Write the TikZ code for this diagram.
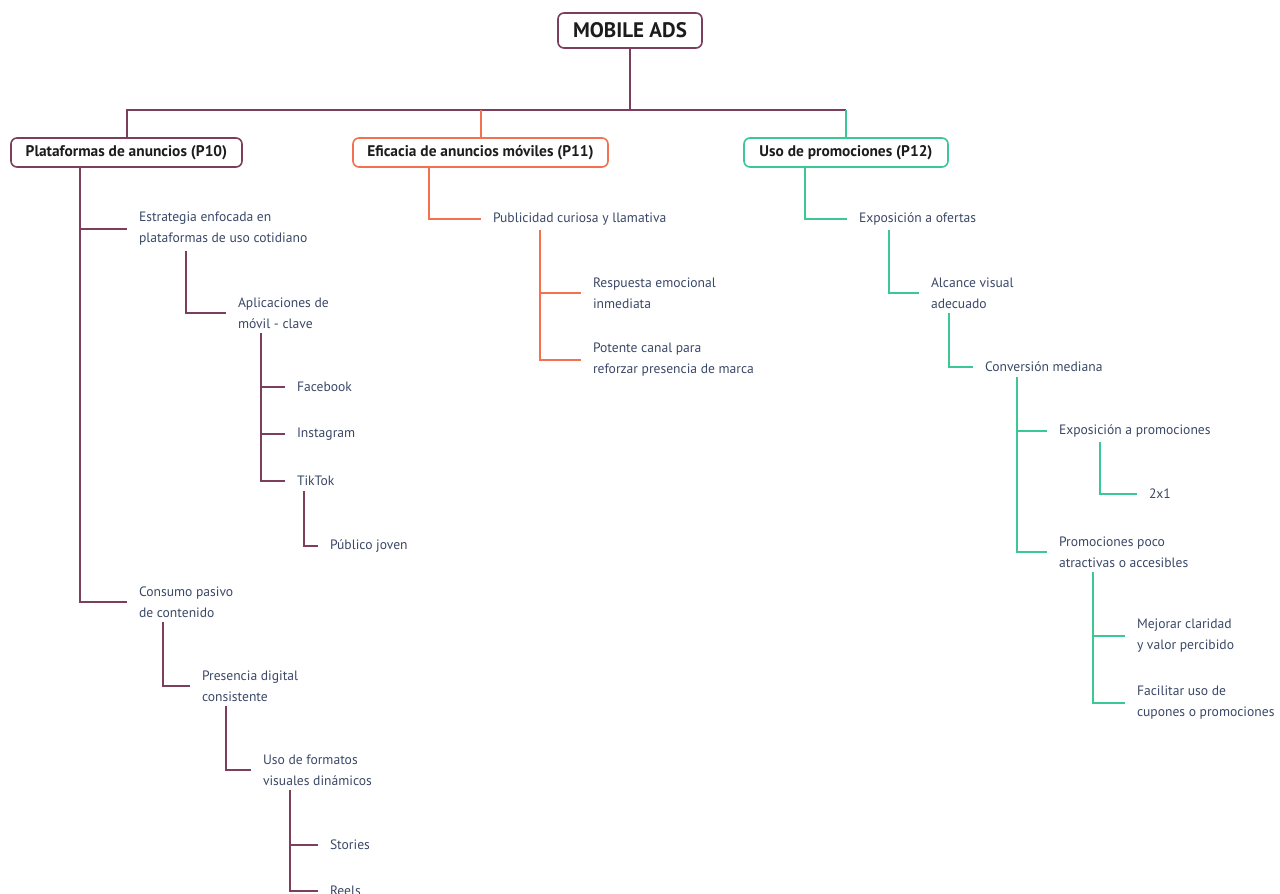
\documentclass[tikz,border=0pt]{standalone}
\usepackage{fontspec}
\setmainfont{PT Sans}
\usetikzlibrary{calc}
\definecolor{plum}{HTML}{7B3F5C}
\definecolor{coral}{HTML}{F5704E}
\definecolor{mint}{HTML}{3CC894}
\definecolor{ink}{HTML}{3A4766}
\definecolor{head}{HTML}{1C1C1C}

\begin{document}
\begin{tikzpicture}[x=1pt,y=-1pt,
  leaf/.style={anchor=west, align=left, inner sep=0pt, outer xsep=12pt, outer ysep=5pt,
    text=ink, font=\fontsize{13.6}{21}\selectfont},
  cat/.style={draw=#1, line width=1.6pt, rounded corners=6pt, fill=white, inner sep=0pt,
    outer sep=0pt, minimum height=29pt, text=head, font=\bfseries\fontsize{15.4}{18}\selectfont},
  link/.style={draw=#1, line width=2pt}
]
\useasboundingbox (0,0) rectangle (1280,894);

% root and the three topics
\node[cat=plum, minimum width=144pt, minimum height=35pt, font=\bfseries\fontsize{21}{24}\selectfont]
  (root) at (630,30.5) {MOBILE ADS};
\node[cat=plum, minimum width=231pt] (p10) at (126.5,152.5) {Plataformas de anuncios (P10)};
\node[cat=coral, minimum width=255pt] (p11) at (480.5,152.5) {Eficacia de anuncios móviles (P11)};
\node[cat=mint, minimum width=204pt] (p12) at (846,152.5) {Uso de promociones (P12)};

\coordinate (hub) at (630,110);
\draw[link=plum] (root.south) -- (hub);
\draw[link=plum] (hub) -| (p10.north);
\draw[link=plum] (hub) -- (hub -| p12.north);
\draw[link=coral] (hub -| p11.north) -- (p11.north);
\draw[link=mint] (hub -| p12.north) -- (p12.north);

% ---- P10 branch
\node[leaf] (estr) at (127,229) {Estrategia enfocada en\\plataformas de uso cotidiano};
\node[leaf] (apps) at (226,313) {Aplicaciones de\\móvil - clave};
\node[leaf] (fb) at (285,387) {Facebook};
\node[leaf] (ig) at (285,434) {Instagram};
\node[leaf] (tt) at (285,481) {TikTok};
\node[leaf] (joven) at (318,546) {Público joven};
\node[leaf] (pasivo) at (127,602) {Consumo pasivo\\de contenido};
\node[leaf] (presencia) at (190,686) {Presencia digital\\consistente};
\node[leaf] (formatos) at (251,770) {Uso de formatos\\visuales dinámicos};
\node[leaf] (stories) at (318,845) {Stories};
\node[leaf] (reels) at (318,891) {Reels};

\draw[link=plum] ([xshift=69pt]p10.south west) |- (estr.west);
\draw[link=plum] ([xshift=69pt]p10.south west) |- (pasivo.west);
\draw[link=plum] ([xshift=59pt]estr.south west) |- (apps.west);
\draw[link=plum] ([xshift=35pt]apps.south west) |- (fb.west);
\draw[link=plum] ([xshift=35pt]apps.south west) |- (ig.west);
\draw[link=plum] ([xshift=35pt]apps.south west) |- (tt.west);
\draw[link=plum] ([xshift=19pt]tt.south west) |- (joven.west);
\draw[link=plum] ([xshift=36pt]pasivo.south west) |- (presencia.west);
\draw[link=plum] ([xshift=36pt]presencia.south west) |- (formatos.west);
\draw[link=plum] ([xshift=39pt]formatos.south west) |- (stories.west);
\draw[link=plum] ([xshift=39pt]formatos.south west) |- (reels.west);

% ---- P11 branch
\node[leaf] (curiosa) at (481,219) {Publicidad curiosa y llamativa};
\node[leaf] (emocion) at (581,293) {Respuesta emocional\\inmediata};
\node[leaf] (canal) at (581,360) {Potente canal para\\reforzar presencia de marca};

\draw[link=coral] ([xshift=76pt]p11.south west) |- (curiosa.west);
\draw[link=coral] ([xshift=59pt]curiosa.south west) |- (emocion.west);
\draw[link=coral] ([xshift=59pt]curiosa.south west) |- (canal.west);

% ---- P12 branch
\node[leaf] (ofertas) at (847,219) {Exposición a ofertas};
\node[leaf] (alcance) at (919,293) {Alcance visual\\adecuado};
\node[leaf] (conv) at (973,367) {Conversión mediana};
\node[leaf] (expro) at (1047,431) {Exposición a promociones};
\node[leaf] (dos) at (1137,494) {2x1};
\node[leaf] (poco) at (1047,552) {Promociones poco\\atractivas o accesibles};
\node[leaf] (claridad) at (1125,636) {Mejorar claridad\\y valor percibido};
\node[leaf] (cupones) at (1125,703) {Facilitar uso de\\cupones o promociones};

\draw[link=mint] ([xshift=61pt]p12.south west) |- (ofertas.west);
\draw[link=mint] ([xshift=42pt]ofertas.south west) |- (alcance.west);
\draw[link=mint] ([xshift=30pt]alcance.south west) |- (conv.west);
\draw[link=mint] ([xshift=44pt]conv.south west) |- (expro.west);
\draw[link=mint] ([xshift=44pt]conv.south west) |- (poco.west);
\draw[link=mint] ([xshift=53pt]expro.south west) |- (dos.west);
\draw[link=mint] ([xshift=46pt]poco.south west) |- (claridad.west);
\draw[link=mint] ([xshift=46pt]poco.south west) |- (cupones.west);
\end{tikzpicture}
\end{document}
